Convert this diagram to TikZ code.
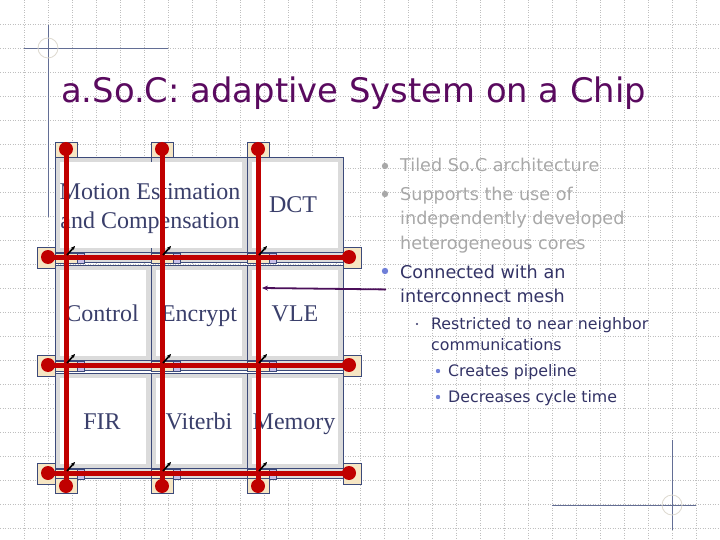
\documentclass[tikz,border=0pt]{standalone}
\usepackage{fontspec}
\setmainfont{Liberation Serif}
\newfontfamily\sansf{DejaVu Sans}
\usetikzlibrary{arrows.meta}
\definecolor{navy}{HTML}{3C4A7A}
\definecolor{tiletxt}{HTML}{3A3F6B}
\definecolor{redl}{HTML}{C00000}
\definecolor{beige}{HTML}{F6E6C4}
\definecolor{lav}{HTML}{C8C0E8}
\definecolor{ttl}{HTML}{5A0A5F}
\definecolor{dark}{HTML}{333366}
\definecolor{bblue}{HTML}{6F7FD8}
\definecolor{gtxt}{HTML}{A8A8A8}
\definecolor{arr}{HTML}{4B0F5A}
\tikzset{
 tile/.style={fill=black!14,draw=navy,line width=0.6pt},
 tt/.style={font=\fontsize{24}{29}\selectfont,text=tiletxt,inner sep=0pt,align=center,anchor=base},
 pad/.style={fill=beige,draw=navy,line width=0.6pt},
 lpad/.style={fill=lav,draw=navy,line width=0.6pt},
 wire/.style={redl,line width=5pt},
 dot/.style={circle,fill=redl,inner sep=0pt,minimum size=14pt},
 bl/.style={anchor=base west,inner sep=0pt,font=\sansf\fontsize{17.6}{20}\selectfont},
 sl/.style={anchor=base west,inner sep=0pt,text=dark,font=\sansf\fontsize{15.8}{18}\selectfont},
 deco/.style={navy!80,line width=0.8pt},
}
\begin{document}
\begin{tikzpicture}[x=1pt,y=-1pt]
\useasboundingbox (0,0) rectangle (720,540);
\fill[white] (0,0) rectangle (720,540);
\foreach \i in {1,...,29} \draw[black!25,dotted,line width=0.5pt] (24*\i,0) -- (24*\i,540);
\foreach \j in {1,...,22} \draw[black!25,dotted,line width=0.5pt] (0,24*\j) -- (720,24*\j);
% decorations
\draw[deco] (48,25) -- (48,217);
\draw[deco] (24,48) -- (168,48);
\draw[beige!70!black!40,line width=0.8pt] (48,48) circle (10);
\draw[deco] (672,440) -- (672,530);
\draw[deco] (552,505) -- (696,505);
\draw[beige!70!black!40,line width=0.8pt] (672,505) circle (10);
% title
\node[anchor=base west,inner sep=0pt,text=ttl,font=\sansf\fontsize{33.8}{36}\selectfont] (title) at (61,103) {a.So.C: adaptive System on a Chip};
% tiles
\foreach \r/\t in {0/157,1/265,2/373}{
 \foreach \c in {0,1,2}{
  \draw[tile] (55+96*\c,\t) rectangle (151+96*\c,\t+96);
  \fill[white] (60+96*\c,\t+5) rectangle (146+96*\c,\t+91);
 }
}
\fill[white] (60,162) rectangle (242,248);
\draw[navy,line width=0.6pt] (151,157) -- (151,162);
% channels
\foreach \y in {257,365,473}{
 \fill[black!14] (55,\y-5) rectangle (343,\y+5);
 \draw[navy,line width=0.6pt] (55,\y-5) -- (343,\y-5) (55,\y+5) -- (343,\y+5);
}
% pads
\foreach \x in {66,162,258}{
 \foreach \y in {257,365,473}{
  \draw[pad] (\x-11,\y-4) rectangle (\x+11,\y+6);
  \draw[lpad] (\x+11,\y-4) rectangle (\x+18,\y+6);
 }
 \draw[pad] (\x-11,142) rectangle (\x+11,157);
 \draw[pad] (\x-11,478) rectangle (\x+11,493);
}
\foreach \y in {257,365,473}{
 \draw[pad] (37,\y-10) rectangle (55,\y+11);
 \draw[pad] (343,\y-10) rectangle (361,\y+11);
}
% tile text
\node[tt] (me) at (150,200) {Motion Estimation};
\node[tt] (me2) at (150,229) {and Compensation};
\node[tt] (dct) at (293,213) {DCT};
\node[tt] (ctl) at (102,321) {Control};
\node[tt] (enc) at (199,321) {Encrypt};
\node[tt] (vle) at (295,321) {VLE};
\node[tt] (fir) at (102,429) {FIR};
\node[tt] (vit) at (199,429) {Viterbi};
\node[tt] (mem) at (294,429) {Memory};
% wires
\foreach \x in {66,162,258}{
 \node[dot] (t\x) at (\x,149) {};
 \node[dot] (b\x) at (\x,486) {};
 \draw[wire] (t\x.center) -- (b\x.center);
}
\foreach \y in {257,365,473}{
 \node[dot] (l\y) at (48,\y) {};
 \node[dot] (r\y) at (349,\y) {};
 \draw[wire] (l\y.center) -- (r\y.center);
}
\foreach \x in {66,162,258}{
 \foreach \y in {257,365,473}{
  \draw[-{Stealth[length=4pt,width=3.5pt]},black,line width=1.6pt] (\x+1,\y-2) -- (\x+9,\y-11);
 }
}
% bullets
\fill[gtxt] (385,166) circle (3.2);
\node[bl,text=gtxt] (b1) at (400,172) {Tiled So.C architecture};
\fill[gtxt] (385,194) circle (3.2);
\node[bl,text=gtxt] (b2) at (400,201) {Supports the use of};
\node[bl,text=gtxt] (b2b) at (400,225) {independently developed};
\node[bl,text=gtxt] (b2c) at (400,249) {heterogeneous cores};
\fill[bblue] (385,271) circle (3.2);
\node[bl,text=dark] (b3) at (400,278) {Connected with an};
\node[bl,text=dark] (b3b) at (400,302) {interconnect mesh};
\fill[dark] (417,324) circle (1.2);
\node[sl] (s1) at (431,329) {Restricted to near neighbor};
\node[sl] (s1b) at (431,350) {communications};
\fill[bblue] (438,371) circle (2.2);
\node[sl] (ss1) at (448,376) {Creates pipeline};
\fill[bblue] (438,397) circle (2.2);
\node[sl] (ss2) at (448,402) {Decreases cycle time};
% pointer arrow
\coordinate (tip) at (262,288);
\draw[arr,line width=1.8pt,-{Stealth[length=6pt,width=5pt]}] (b3b.west) ++(-14,-6) -- (tip);
\end{tikzpicture}
\end{document}
